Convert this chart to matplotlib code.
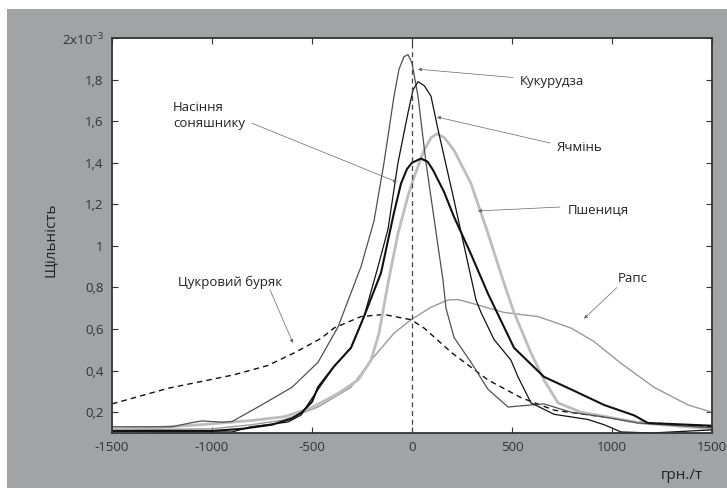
import numpy as np
import matplotlib
matplotlib.use("Agg")
import matplotlib.pyplot as plt
from matplotlib.patches import Rectangle

plt.rcParams['font.family'] = ['Open Sans', 'DejaVu Sans']
plt.rcParams['mathtext.fontset'] = 'custom'
plt.rcParams['mathtext.rm'] = 'Open Sans'
plt.rcParams['mathtext.it'] = 'Open Sans'

# ---- data (density, units of 1e-3) ----
corn_x = [-1500, -1200, -1100, -1050, -950, -900, -770, -600, -470, -370, -255, -190, -140, -90, -65, -40,
          -20, 0, 30, 70, 100, 130, 155, 170, 210, 295, 380, 480, 595, 660, 795, 960, 1130, 1500]
corn_y = [0.13, 0.13, 0.15, 0.158, 0.152, 0.155, 0.225, 0.32, 0.44, 0.61, 0.90, 1.12, 1.40, 1.72, 1.85, 1.91,
          1.92, 1.88, 1.72, 1.40, 1.20, 1.00, 0.835, 0.70, 0.56, 0.44, 0.31, 0.225, 0.235, 0.24, 0.20, 0.177,
          0.148, 0.125]

barley_x = [-1500, -1200, -900, -805, -620, -555, -505, -455, -390, -305, -240, -170, -120, -70, -20, 5, 30,
            62, 95, 130, 210, 320, 345, 410, 495, 530, 595, 710, 880, 960, 1045, 1200, 1500]
barley_y = [0.11, 0.105, 0.105, 0.13, 0.153, 0.186, 0.26, 0.33, 0.42, 0.51, 0.66, 0.90, 1.08, 1.40, 1.64, 1.75,
            1.79, 1.77, 1.72, 1.56, 1.22, 0.74, 0.68, 0.55, 0.45, 0.37, 0.245, 0.19, 0.165, 0.14, 0.105, 0.10,
            0.115]

sun_x = [-1500, -1000, -850, -700, -600, -550, -500, -470, -390, -305, -240, -155, -90, -55, -25, 0, 45,
         78, 105, 160, 210, 295, 380, 510, 660, 795, 960, 1110, 1180, 1500]
sun_y = [0.11, 0.11, 0.12, 0.14, 0.17, 0.20, 0.25, 0.32, 0.42, 0.51, 0.66, 0.87, 1.16, 1.30, 1.37, 1.40, 1.42,
         1.405, 1.365, 1.26, 1.14, 0.96, 0.77, 0.51, 0.37, 0.31, 0.235, 0.185, 0.148, 0.135]

wheat_x = [-1500, -1300, -1055, -805, -640, -505, -370, -270, -205, -165, -120, -70, -20, 10, 60, 95, 125,
           162, 210, 295, 380, 455, 510, 595, 660, 730, 845, 980, 1145, 1500]
wheat_y = [0.12, 0.125, 0.14, 0.16, 0.178, 0.22, 0.29, 0.355, 0.45, 0.58, 0.82, 1.06, 1.24, 1.33, 1.46, 1.52,
           1.54, 1.52, 1.46, 1.30, 1.06, 0.835, 0.68, 0.485, 0.355, 0.245, 0.20, 0.177, 0.148, 0.12]

rape_x = [-1500, -1000, -800, -640, -470, -305, -205, -90, -5, 95, 180, 230, 295, 460, 630, 795, 910, 1045,
          1210, 1380, 1500]
rape_y = [0.115, 0.12, 0.14, 0.163, 0.225, 0.32, 0.45, 0.58, 0.645, 0.705, 0.74, 0.742, 0.725, 0.68, 0.66,
          0.605, 0.54, 0.435, 0.32, 0.235, 0.20]

beet_x = [-1500, -1220, -890, -720, -590, -455, -390, -255, -140, -5, 60, 200, 380, 545, 710, 960, 1130, 1500]
beet_y = [0.24, 0.315, 0.38, 0.425, 0.485, 0.555, 0.605, 0.66, 0.67, 0.645, 0.605, 0.485, 0.355, 0.27, 0.21,
          0.177, 0.153, 0.13]

yticks = [0.2, 0.4, 0.6, 0.8, 1.0, 1.2, 1.4, 1.6, 1.8, 2.0]
yticklabels = ['0,2', '0,4', '0,6', '0,8', '1', '1,2', '1,4', '1,6', '1,8', '2x10$^{-3}$']
xticks = [-1500, -1000, -500, 0, 500, 1000, 1500]

W, H = 727, 490
fig = plt.figure(figsize=(W / 100, H / 100), dpi=100, facecolor='white')
fig.patches.append(Rectangle((7 / W, 2 / H), 720 / W, 479 / H, transform=fig.transFigure,
                             facecolor='#a2a3a5', edgecolor='none', zorder=-10))

ax = fig.add_axes([112 / W, 57 / H, 600 / W, 395 / H])
ax.set_zorder(5)
ax.set_facecolor('white')

ax.plot(rape_x, rape_y, color='#9a9a9a', lw=1.0)
ax.plot(beet_x, beet_y, color='#111111', lw=1.0, dashes=(4, 3))
ax.plot(wheat_x, wheat_y, color='#bdbdbd', lw=2.0)
ax.plot(corn_x, corn_y, color='#505050', lw=0.9)
ax.plot(barley_x, barley_y, color='#111111', lw=0.9)
ax.plot(sun_x, sun_y, color='#111111', lw=1.5)
ax.axvline(0, color='#444444', lw=0.9, dashes=(4, 3))

ax.set_xlim(-1500, 1500)
ax.set_ylim(0.1, 2.0)
ax.set_xticks(xticks)
ax.set_xticklabels([str(v) for v in xticks])
ax.set_yticks(yticks)
ax.set_yticklabels(yticklabels)
ax.tick_params(direction='in', length=4, width=0.8, top=True, right=True,
               labelsize=9.5, labelcolor='#333333', color='#333333', pad=6)
for s in ax.spines.values():
    s.set_linewidth(1.3)
    s.set_color('#333333')

fig.text(50 / W, 1 - 240 / H, 'Щільність', fontsize=11, color='#222222', rotation=90,
         ha='center', va='center')
fig.text(703 / W, 1 - 475 / H, 'грн./т', fontsize=11, color='#222222', ha='right', va='center')

arrow = dict(arrowstyle='-|>', color='#666666', lw=0.5, mutation_scale=5, shrinkA=0, shrinkB=0)
tc = '#222222'
ax.annotate('', xy=(30, 1.85), xytext=(505, 1.81), arrowprops=arrow)
ax.text(540, 1.79, 'Кукурудза', fontsize=9.5, color=tc, va='center')
ax.annotate('', xy=(125, 1.62), xytext=(690, 1.495), arrowprops=arrow)
ax.text(725, 1.475, 'Ячмінь', fontsize=9.5, color=tc, va='center')
ax.annotate('', xy=(330, 1.168), xytext=(740, 1.187), arrowprops=arrow)
ax.text(780, 1.17, 'Пшениця', fontsize=9.5, color=tc, va='center')
ax.annotate('', xy=(860, 0.65), xytext=(1025, 0.80), arrowprops=arrow)
ax.text(1030, 0.845, 'Рапс', fontsize=9.5, color=tc, va='center')
ax.annotate('', xy=(-75, 1.307), xytext=(-800, 1.59), arrowprops=arrow)
ax.text(-1195, 1.625, 'Насіння\nсоняшнику', fontsize=9.5, color=tc, va='center', linespacing=1.3)
ax.annotate('', xy=(-595, 0.533), xytext=(-710, 0.788), arrowprops=arrow)
ax.text(-1170, 0.826, 'Цукровий буряк', fontsize=9.5, color=tc, va='center')

fig.savefig('out.png', dpi=100, facecolor='white')
